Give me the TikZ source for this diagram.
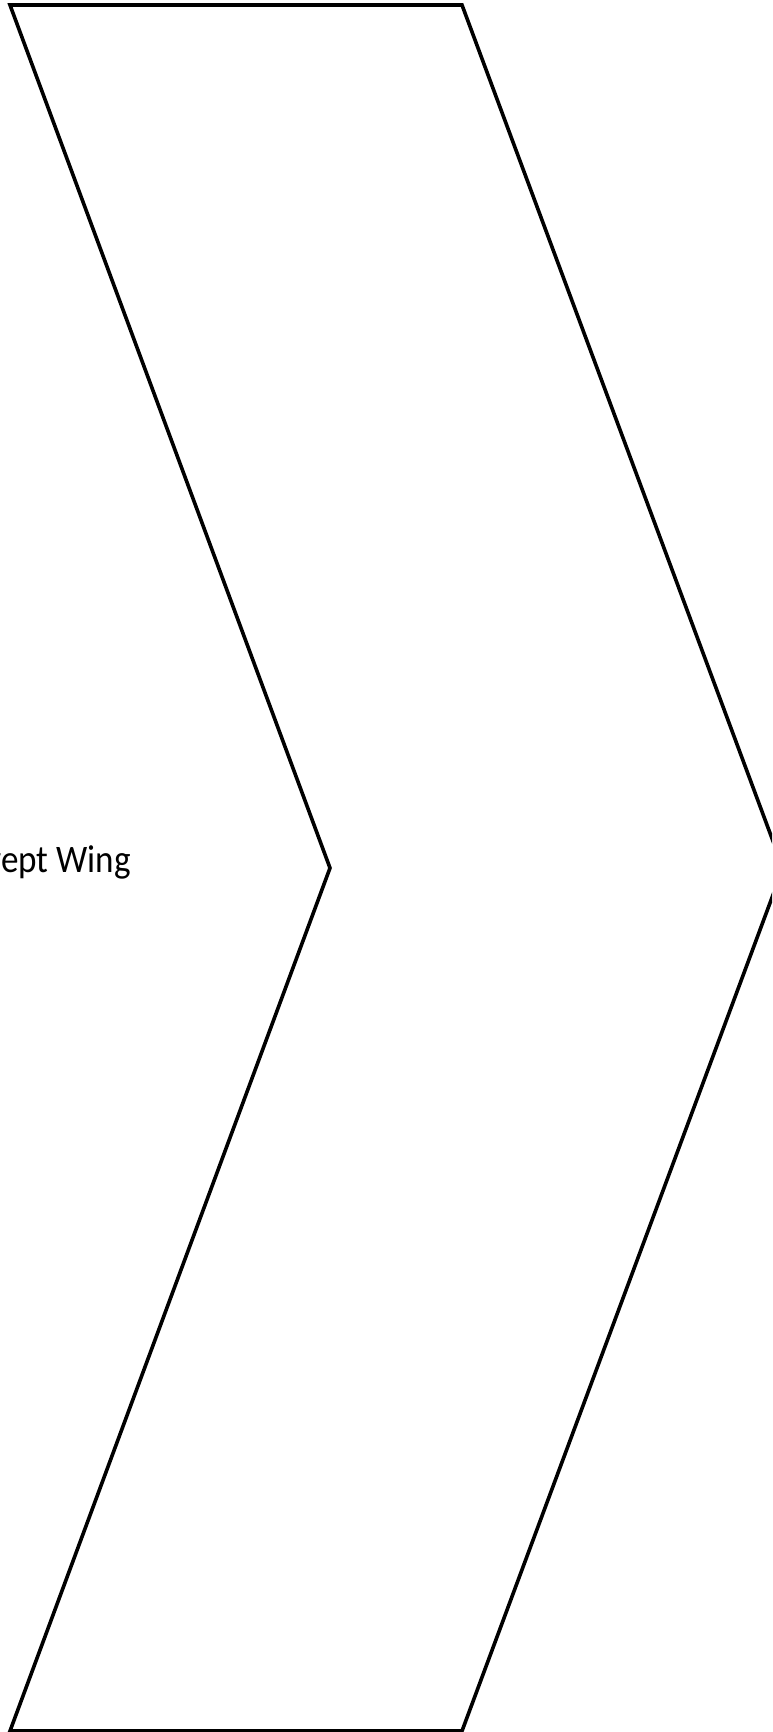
\documentclass[tikz,border=0pt]{standalone}
\usepackage{fontspec}
\usepackage{graphicx}
\setmainfont{Carlito}
\begin{document}
\begin{tikzpicture}[x=1pt,y=-1pt,
  chev/.style={draw=black,line width=3.6pt,line join=miter,fill=white},
  lbl/.style={font=\fontsize{39}{47}\selectfont,inner sep=0pt,anchor=base east}]
\useasboundingbox (0,0) rectangle (772,1732);
\clip (0,0) rectangle (772,1732);
\coordinate (tl) at (10,5);
\coordinate (tr) at (462,5);
\coordinate (tip) at (783,868);
\coordinate (br) at (462,1731);
\coordinate (bl) at (10,1731);
\coordinate (notch) at (330,868);
\draw[chev] (tl) -- (tr) -- (tip) -- (br) -- (bl) -- (notch) -- cycle;
\node[lbl] (t) at (131,872) {\scalebox{0.9}[1]{Swept Wing}};
\end{tikzpicture}
\end{document}
